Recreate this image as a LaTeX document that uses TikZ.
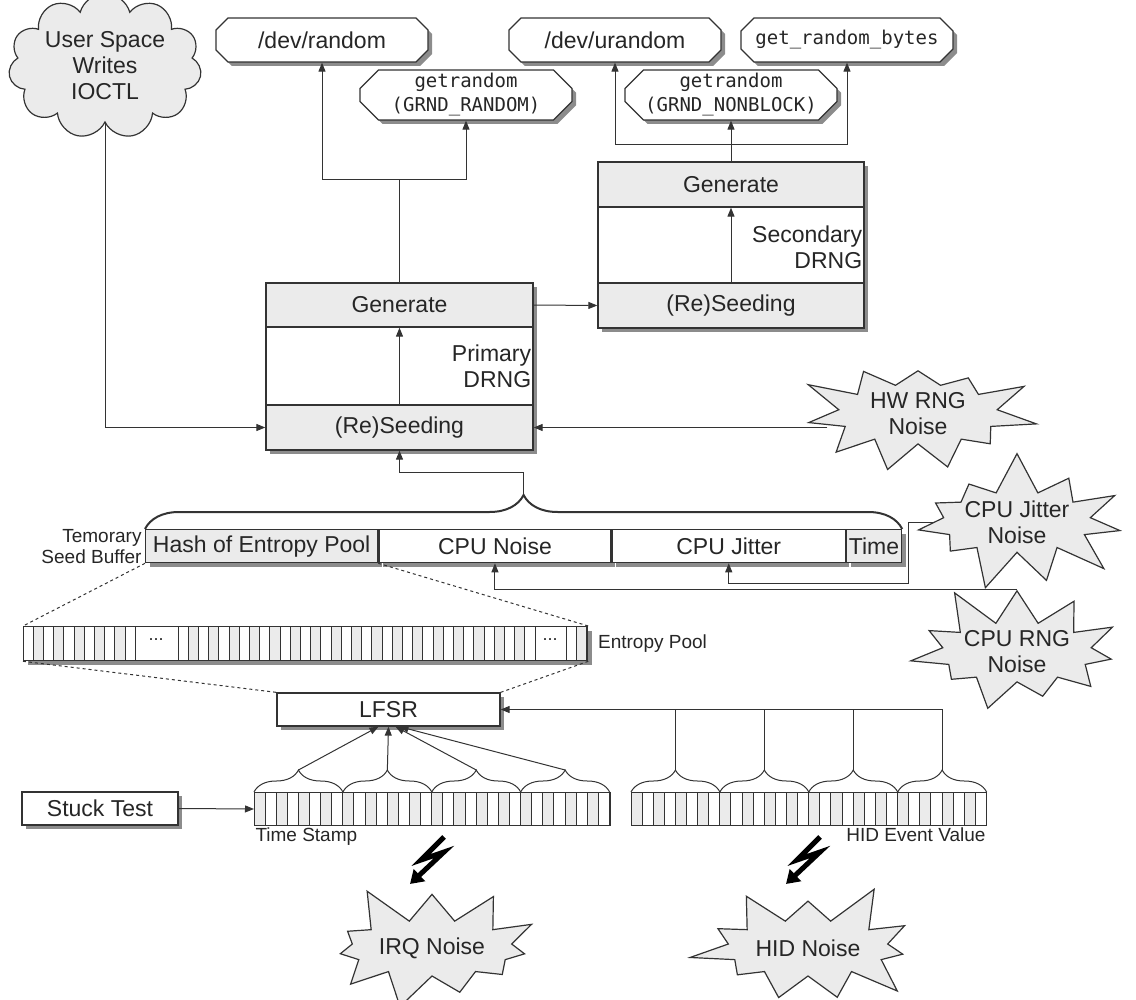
\documentclass[tikz,border=0pt]{standalone}
\usepackage{fontspec}
\setmainfont{Liberation Sans}
\setmonofont{DejaVu Sans Mono}
\usepackage{tikz}
\usetikzlibrary{arrows.meta,positioning,calc,shapes.misc,shapes.symbols,shadows,decorations.pathreplacing}
\definecolor{boxgray}{HTML}{EBEBEB}
\definecolor{shadowgray}{HTML}{8C8C8C}

\begin{document}
\begin{tikzpicture}[x=1pt, y=-1pt, >={Triangle[length=9pt,width=7pt]},
  font=\fontsize{23}{26}\selectfont, line width=1pt, draw=black!80, text=black!85,
  boxshadow/.style={drop shadow={shadow xshift=4pt, shadow yshift=-4pt, fill=shadowgray, opacity=1}},
  box/.style={draw, line width=1.3pt, fill=white, inner sep=1pt, minimum height=33pt},
  iface/.style={draw, chamfered rectangle, chamfered rectangle xsep=15pt, line width=1.3pt, fill=white, boxshadow, minimum width=212pt, minimum height=44pt, inner sep=0pt, align=center},
  mono/.style={font=\ttfamily\fontsize{19}{24}\selectfont},
  small/.style={font=\fontsize{19}{21}\selectfont},
  noise/.style={starburst, draw, fill=boxgray, line width=1.2pt, starburst point height=42pt, starburst points=11, align=center, inner sep=0pt}]
\useasboundingbox (0,0) rectangle (1136,1000);

\node[cloud, draw, fill=boxgray, line width=1.2pt, cloud puffs=11, aspect=1.5, minimum width=193pt, minimum height=125pt, align=center, inner sep=0pt] (userspace) at (105,66) {User Space\\Writes\\IOCTL};

\node[iface] (devrand) at (322,40) {/dev/random};
\node[iface, mono] (grndrand) at (466,95) {getrandom\\(GRND\_RANDOM)};
\node[iface] (devurand) at (615,40) {/dev/urandom};
\node[iface, mono] (getbytes) at (847,40) {get\_random\_bytes};
\node[iface, mono] (grndnb) at (731,95) {getrandom\\(GRND\_NONBLOCK)};

\node[box, boxshadow, minimum width=267pt, minimum height=167pt] (prim) at (399.5,366.5) {};
\node[box, fill=boxgray, minimum width=267pt, minimum height=44pt, anchor=north] (primgen) at (prim.north) {Generate};
\node[box, fill=boxgray, minimum width=267pt, minimum height=45pt, anchor=south] (primseed) at (prim.south) {(Re)Seeding};
\node[anchor=east, align=right, inner sep=2pt] (primlabel) at (prim.east) {Primary\\DRNG};

\node[box, boxshadow, minimum width=266pt, minimum height=166pt] (sec) at (731,245) {};
\node[box, fill=boxgray, minimum width=266pt, minimum height=45pt, anchor=north] (secgen) at (sec.north) {Generate};
\node[box, fill=boxgray, minimum width=266pt, minimum height=45pt, anchor=south] (secseed) at (sec.south) {(Re)Seeding};
\node[anchor=east, align=right, inner sep=2pt] (seclabel) at ($(sec.east)+(0,2)$) {Secondary\\DRNG};

\draw[->] (primseed.north) -- (primgen.south);
\draw[->] (secseed.north) -- (secgen.south);
\draw[->] (primgen.east) -- (secseed.west);
\draw (primgen.north) -- ++(0,-103) coordinate (pfork);
\draw[->] (pfork) -| (devrand.south);
\draw[->] (pfork) -| (grndrand.south);
\draw[->] (secgen.north) -- (grndnb.south);
\coordinate (sfork) at ($(secgen.north)+(0,-17)$);
\draw[->] (sfork) -| (devurand.south);
\draw[->] (sfork) -| (getbytes.south);

\node[noise, random starburst=3, minimum width=244pt, minimum height=130pt] (hwrng) at (918,414) {HW RNG\\Noise};
\node[noise, random starburst=7, minimum width=220pt, minimum height=130pt] (jitnoise) at (1017,522) {CPU Jitter\\Noise};
\node[noise, random starburst=11, minimum width=220pt, minimum height=128pt] (rngnoise) at (1017,652) {CPU RNG\\Noise};

\draw[->] (userspace.south) |- (primseed.west);
\draw[->] (hwrng.west |- primseed.east) -- (primseed.east);

\node[box, boxshadow, fill=boxgray, minimum width=232pt, anchor=north west] (hash) at (145,529) {Hash of Entropy Pool};
\node[box, boxshadow, minimum width=232pt, right=0pt of hash] (cpunoise) {CPU Noise};
\node[box, boxshadow, minimum width=233pt, right=0pt of cpunoise] (jitter) {CPU Jitter};
\node[box, boxshadow, fill=boxgray, minimum width=55pt, right=0pt of jitter] (time) {Time};
\node[small, anchor=east, align=right, inner sep=3pt] (bufferlabel) at (hash.west) {Temorary\\Seed Buffer};

\draw[decorate, decoration={brace, amplitude=34pt}, line width=2pt] (hash.north west) -- (time.north east);
\coordinate (btip) at ($(hash.north west)!0.5!(time.north east)+(0,-34)$);
\draw[->] (btip) -- ++(0,-23) -| (primseed.south);
\draw[->] (jitnoise.west) -| ($(time.south east)+(6,20)$) -| (jitter.south);
\draw[->] (rngnoise.north) -| (cpunoise.south);

\node[box, boxshadow, minimum width=564pt, minimum height=34pt, anchor=north west, inner sep=0pt] (pool) at (23,626) {};
\foreach \s/\n in {23/11,178/35,566/2}
  \foreach \i in {1,...,\n} {
    \ifodd\i \def\cf{white}\else\def\cf{boxgray}\fi
    \draw[fill=\cf] ({\s+(\i-1)*10.2},626) rectangle ++(10.2,34);
  }
\node[font=\fontsize{18}{18}\selectfont] (dots1) at (156,640) {...};
\node[font=\fontsize{18}{18}\selectfont] (dots2) at (550,640) {...};
\node[small, anchor=west] (poollabel) at ($(pool.east)+(6,0)$) {Entropy Pool};

\node[box, boxshadow, minimum width=223pt, minimum height=33pt] (lfsr) at (388.5,709.5) {LFSR};
\draw[dashed] (hash.south west) -- (pool.north west);
\draw[dashed] (hash.south east) -- (pool.north east);
\draw[dashed] (pool.south west) -- (lfsr.north west);
\draw[dashed] (pool.south east) -- (lfsr.north east);

\node[box, boxshadow, minimum width=156pt] (stuck) at (100,808.5) {Stuck Test};
\node[draw, minimum width=356pt, minimum height=33pt, anchor=north west, inner sep=0pt] (tsreg) at (254,792) {};
\node[draw, minimum width=355pt, minimum height=33pt, anchor=north west, inner sep=0pt] (hidreg) at (631,792) {};
\foreach \r in {tsreg,hidreg} {
  \foreach \i in {1,...,32} {
    \ifodd\i \def\cf{boxgray}\else\def\cf{white}\fi
    \draw[fill=\cf] ($(\r.north west)+({(\i-1)*11.11},0)$) rectangle ++(11.11,33);
  }
  \foreach \g in {1,...,4} {
    \draw[decorate, decoration={brace, amplitude=22pt}] ($(\r.north west)+({(\g-1)*88.9},0)$) -- ++(88.9,0);
    \coordinate (\r\g) at ($(\r.north west)+({(\g-1)*88.9+44.45},-22)$);
  }
}
\node[small, anchor=north west, inner sep=1pt] (tslabel) at (tsreg.south west) {Time Stamp};
\node[small, anchor=north east, inner sep=1pt] (hidlabel) at (hidreg.south east) {HID Event Value};

\draw[->] (stuck.east) -- (tsreg.west);
\draw[->] (tsreg1) -- ($(lfsr.south)+(-10,0)$);
\draw[->] (tsreg2) -- (lfsr.south);
\draw[->] (tsreg3) -- ($(lfsr.south)+(7,0)$);
\draw[->] (tsreg4) -- ($(lfsr.south)+(11,0)$);
\draw[->] (hidreg4) |- (lfsr.east);
\foreach \g in {1,2,3}
  \draw (hidreg\g) -- (hidreg\g |- lfsr.east);

\node[noise, random starburst=5, minimum width=245pt, minimum height=140pt] (irq) at (432,948) {IRQ Noise};
\node[noise, random starburst=9, minimum width=245pt, minimum height=140pt] (hidnoise) at (808,948) {HID Noise};
\foreach \n in {irq,hidnoise}
  \draw[line width=5pt, draw=black, -{Triangle[length=13pt,width=16pt]}] ($(\n.center)+(12,-111)$) -- ($(\n.center)+(-11,-88)$) -- ($(\n.center)+(12,-96)$) -- ($(\n.center)+(-22,-64)$);
\end{tikzpicture}
\end{document}
